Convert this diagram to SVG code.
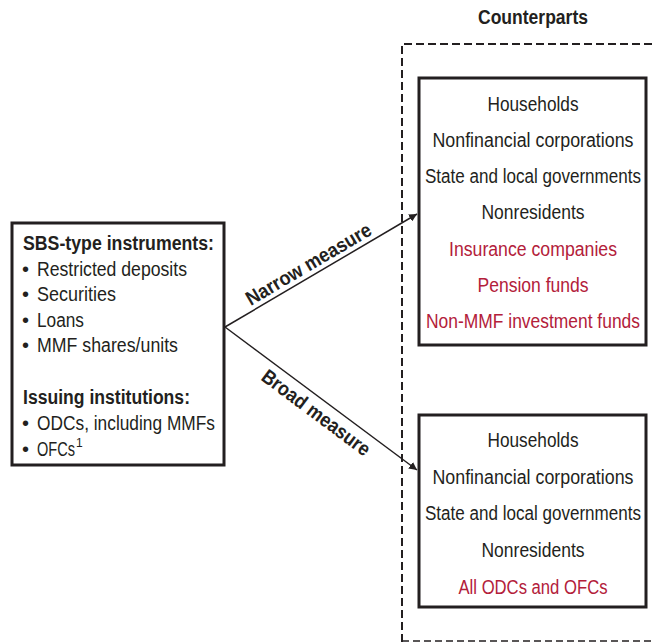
<svg xmlns="http://www.w3.org/2000/svg" width="652" height="643" viewBox="0 0 652 643">
<defs>
<style>
text{font-family:"Liberation Sans",Arial,sans-serif;font-size:20px;fill:#231f20}
.b{font-weight:bold}
.r{fill:#b3203a}
.c{text-anchor:middle}
.box{fill:#fff;stroke:#231f20;stroke-width:3}
.conn{stroke:#231f20;stroke-width:1.5;fill:none}
</style>
<marker id="ah" viewBox="0 0 10 10" refX="10" refY="5" markerWidth="8" markerHeight="8" markerUnits="userSpaceOnUse" orient="auto">
<path d="M0,0 L10,5 L0,10 z" fill="#231f20"/>
</marker>
</defs>
<rect width="652" height="643" fill="#fff"/>
<g id="counterparts">
<text class="b c" x="533" y="24" textLength="110" lengthAdjust="spacingAndGlyphs">Counterparts</text>
<path d="M402,642 V44 H652" fill="none" stroke="#231f20" stroke-width="2" stroke-dasharray="8,4"/>
<path d="M402,641 H652" fill="none" stroke="#231f20" stroke-width="1.5" stroke-dasharray="7,4"/>
</g>
<g id="instruments">
<rect class="box" x="12" y="223" width="212" height="242"/>
<text class="b" x="23" y="250" textLength="191" lengthAdjust="spacingAndGlyphs">SBS-type instruments:</text>
<text x="22" y="276">•</text><text x="37" y="276" textLength="150" lengthAdjust="spacingAndGlyphs">Restricted deposits</text>
<text x="22" y="301">•</text><text x="37" y="301" textLength="79" lengthAdjust="spacingAndGlyphs">Securities</text>
<text x="22" y="327">•</text><text x="37" y="327" textLength="47" lengthAdjust="spacingAndGlyphs">Loans</text>
<text x="22" y="352">•</text><text x="37" y="352" textLength="141" lengthAdjust="spacingAndGlyphs">MMF shares/units</text>
<text class="b" x="23" y="404" textLength="167" lengthAdjust="spacingAndGlyphs">Issuing institutions:</text>
<text x="22" y="430">•</text><text x="37" y="430" textLength="178" lengthAdjust="spacingAndGlyphs">ODCs, including MMFs</text>
<text x="22" y="456">•</text><text x="37" y="456" textLength="38" lengthAdjust="spacingAndGlyphs">OFCs</text><text x="76" y="447" style="font-size:12px">1</text>
</g>
<g id="narrow">
<rect class="box" x="419" y="78" width="227" height="267"/>
<text class="c" x="533" y="111" textLength="91" lengthAdjust="spacingAndGlyphs">Households</text>
<text class="c" x="533" y="147" textLength="201" lengthAdjust="spacingAndGlyphs">Nonfinancial corporations</text>
<text class="c" x="533" y="183" textLength="216" lengthAdjust="spacingAndGlyphs">State and local governments</text>
<text class="c" x="533" y="219" textLength="103" lengthAdjust="spacingAndGlyphs">Nonresidents</text>
<text class="c r" x="533" y="256" textLength="168" lengthAdjust="spacingAndGlyphs">Insurance companies</text>
<text class="c r" x="533" y="292" textLength="111" lengthAdjust="spacingAndGlyphs">Pension funds</text>
<text class="c r" x="533" y="328" textLength="214" lengthAdjust="spacingAndGlyphs">Non-MMF investment funds</text>
</g>
<g id="broad">
<rect class="box" x="419" y="415" width="227" height="192"/>
<text class="c" x="533" y="447" textLength="91" lengthAdjust="spacingAndGlyphs">Households</text>
<text class="c" x="533" y="484" textLength="201" lengthAdjust="spacingAndGlyphs">Nonfinancial corporations</text>
<text class="c" x="533" y="520" textLength="216" lengthAdjust="spacingAndGlyphs">State and local governments</text>
<text class="c" x="533" y="557" textLength="103" lengthAdjust="spacingAndGlyphs">Nonresidents</text>
<text class="c r" x="533" y="594" textLength="149" lengthAdjust="spacingAndGlyphs">All ODCs and OFCs</text>
</g>
<g id="connectors">
<path class="conn" d="M225,327 L417,214" marker-end="url(#ah)"/>
<path class="conn" d="M225,327 L417,470" marker-end="url(#ah)"/>
<text class="b c" transform="translate(312,270) rotate(-30.5)" x="0" y="0" textLength="142" lengthAdjust="spacingAndGlyphs">Narrow measure</text>
<text class="b c" transform="translate(312,418) rotate(36.7)" x="0" y="0" textLength="130" lengthAdjust="spacingAndGlyphs">Broad measure</text>
</g>
</svg>
